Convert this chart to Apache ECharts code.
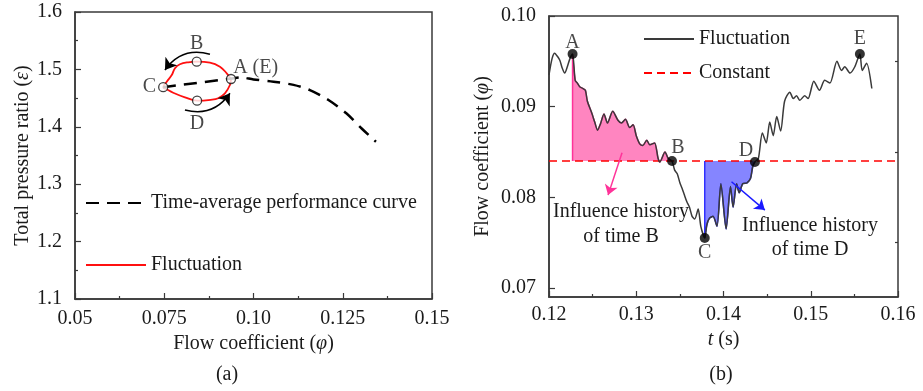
<!DOCTYPE html>
<html><head><meta charset="utf-8">
<script src="https://cdn.jsdelivr.net/npm/echarts@6/dist/echarts.min.js"></script>
<style>html,body{margin:0;padding:0;background:#fff}#c{width:923px;height:391px}</style>
</head><body><div id="c"></div>
<script>
// ---------- panel (a) ----------
const avgPhi = [0.0747, 0.0937, 0.0965, 0.1000, 0.1056, 0.1112, 0.1158, 0.1210, 0.1260, 0.1303, 0.1343];
const avgEps = [1.469, 1.484, 1.486, 1.4825, 1.4786, 1.473, 1.464, 1.4467, 1.4235, 1.397, 1.374];
const loopPhi = [0.0937, 0.0925, 0.0906, 0.0878, 0.0841, 0.0817, 0.0794, 0.0780, 0.0771, 0.0757, 0.0747, 0.0757, 0.0775, 0.0808, 0.0842, 0.0880, 0.0901, 0.0920, 0.0934, 0.0937];
const loopEps = [1.4833, 1.4932, 1.5047, 1.5117, 1.5134, 1.5124, 1.5089, 1.502, 1.4902, 1.4786, 1.469, 1.4653, 1.4594, 1.4514, 1.4455, 1.4470, 1.4497, 1.4584, 1.4728, 1.4833];
const loopMarkerLabels = ['A (E)', 'B', 'C', 'D'];
const loopMarkerPhi = [0.0937, 0.0841, 0.0747, 0.0842];
const loopMarkerEps = [1.4833, 1.5134, 1.469, 1.4455];
const arrowTopFrom = [0.0878, 1.5263], arrowTopTo = [0.0752, 1.499];
const arrowBotFrom = [0.0808, 1.4293], arrowBotTo = [0.0934, 1.4584];
const xTicksA = ['0.05', '0.075', '0.10', '0.125', '0.15'];
const yTicksA = ['1.1', '1.2', '1.3', '1.4', '1.5', '1.6'];

// ---------- panel (b) ----------
const tVals = [0.1200, 0.12035, 0.12065, 0.1210, 0.12125, 0.1215, 0.1218, 0.1221, 0.1224, 0.1227,
  0.1230, 0.12325, 0.12352, 0.1239, 0.12417, 0.1244, 0.12486, 0.12524, 0.12556, 0.1259, 0.1263, 0.1267, 0.1273, 0.1279, 0.1283, 0.12876, 0.12925, 0.12964, 0.1300, 0.1304, 0.13075, 0.1312, 0.13155, 0.1321, 0.1325, 0.1327, 0.1333, 0.13365, 0.1341,
  0.1344, 0.1347, 0.1350, 0.13525, 0.1355, 0.1358, 0.1361, 0.1364, 0.1367, 0.1371, 0.1374, 0.13785,
  0.1381, 0.1384, 0.1388, 0.13925, 0.1397, 0.1403, 0.1408, 0.1411, 0.1415, 0.1418, 0.1422, 0.1427, 0.1431, 0.14335, 0.1436,
  0.1440, 0.14445, 0.1449, 0.1453, 0.1457, 0.1461, 0.14655, 0.1470, 0.1476, 0.1480, 0.14837, 0.14875, 0.1493, 0.1497, 0.15035, 0.1510, 0.1516, 0.1522, 0.1530, 0.15353, 0.1539, 0.1545, 0.15505, 0.15563, 0.1559, 0.1564, 0.1570];
const phiVals = [0.0935, 0.0953, 0.0959, 0.0955, 0.0951, 0.0943, 0.0937, 0.0944, 0.0953, 0.0958,
  0.0929, 0.0926, 0.0922, 0.0920, 0.0918, 0.0906, 0.0894, 0.0883, 0.0874, 0.0881, 0.0892, 0.0882, 0.0895, 0.0885, 0.0882, 0.0886, 0.0877, 0.0880, 0.0868, 0.0859, 0.0857, 0.0863, 0.0858, 0.0860, 0.0843, 0.0839, 0.0850, 0.0843, 0.0840,
  0.0830, 0.0826, 0.0816, 0.0810, 0.0803, 0.0795, 0.0789, 0.0779, 0.0776, 0.0787, 0.0768, 0.0755,
  0.0770, 0.0777, 0.0779, 0.0768, 0.0815, 0.0765, 0.0812, 0.0789, 0.0815, 0.0805, 0.0815, 0.0816, 0.0821, 0.0834, 0.0839,
  0.0843, 0.0871, 0.0860, 0.0883, 0.0868, 0.0889, 0.0873, 0.0906, 0.0916, 0.0909, 0.0912, 0.0907, 0.0912, 0.0909, 0.0928, 0.0918, 0.0929, 0.0926, 0.0950, 0.0940, 0.0944, 0.0937, 0.0944, 0.0958, 0.0940, 0.0948, 0.0920];
const constantPhi = 0.084;
const markerLabelsB = ['A', 'B', 'C', 'D', 'E'];
const markerT = [0.1227, 0.1341, 0.13785, 0.1436, 0.15563];
const markerPhiB = [0.0958, 0.0840, 0.0755, 0.0839, 0.0958];
const arrowPinkFrom = [0.12837, 0.08491], arrowPinkTo = [0.12677, 0.08024];
const arrowBlueFrom = [0.14092, 0.08171], arrowBlueTo = [0.14474, 0.07859];
const xTicksB = ['0.12', '0.13', '0.14', '0.15', '0.16'];
const yTicksB = ['0.07', '0.08', '0.09', '0.10'];
const yTickValuesB = [0.07, 0.08, 0.09, 0.10];
const yMinorValuesB = [0.075, 0.085, 0.095];

// ---------- build ----------
const FONT = '"Liberation Serif", "Times New Roman", serif';
const TXT = '#1a1a1a';
const AX = '#3a3a3a';
const zip = (a, b) => a.map((v, i) => [v, b[i]]);
const curve = zip(tVals, phiVals);
const tA = markerT[0], tB = markerT[1], tC = markerT[2], tD = markerT[3];
const pinkData = [[tA, constantPhi]].concat(curve.filter(p => p[0] >= tA - 1e-9 && p[0] <= tB + 1e-9));
const blueData = [[tC, constantPhi]].concat(curve.filter(p => p[0] >= tC - 1e-9 && p[0] <= tD + 1e-9));
const SM = 0.25;

function axisBase() {
  return {
    axisLine: { show: true, lineStyle: { color: AX, width: 1.5 } },
    axisTick: { show: true, inside: true, length: 6, lineStyle: { color: AX, width: 1.2 } },
    minorTick: { show: true, splitNumber: 2, length: 3, lineStyle: { color: AX, width: 1.2 } },
    splitLine: { show: false },
    axisLabel: { fontSize: 20, fontFamily: FONT, color: TXT },
    nameTextStyle: { fontSize: 20, fontFamily: FONT, color: TXT }
  };
}
const richName = {
  n: { fontSize: 20, fontFamily: FONT, color: TXT },
  i: { fontSize: 20, fontFamily: FONT, color: TXT, fontStyle: 'italic' }
};

const labelStyle = { fontSize: 20, fontFamily: FONT, color: TXT };
const loopLabelPos = [
  { position: 'right', distance: -3, offset: [0, -11] },
  { position: 'top', distance: 3 },
  { position: 'left', distance: 2 },
  { position: 'bottom', distance: 8 }
];
const bLabelPos = [
  { position: 'top', distance: -4 },
  { position: 'top', distance: -2, offset: [6, 0] },
  { position: 'bottom', distance: 0 },
  { position: 'top', distance: -4, offset: [-9, 0] },
  { position: 'top', distance: 0 }
];
const legendText = { fontSize: 20, fontFamily: FONT, color: TXT };
const hideSym = { opacity: 0, borderWidth: 0 };

const option = {
  animation: false,
  textStyle: { fontFamily: FONT },
  grid: [
    { left: 75, top: 12, width: 357, height: 287, show: true, borderColor: AX, borderWidth: 1.5, backgroundColor: 'transparent' },
    { left: 549, top: 16, width: 349, height: 281, show: true, borderColor: AX, borderWidth: 1.5, backgroundColor: 'transparent' }
  ],
  xAxis: [
    Object.assign(axisBase(), {
      gridIndex: 0, type: 'value', min: 0.05, max: 0.15, interval: 0.025,
      name: '{n|Flow coefficient (}{i|φ}{n|)}', nameLocation: 'middle', nameGap: 33,
      nameTextStyle: { rich: richName }
    }),
    Object.assign(axisBase(), {
      gridIndex: 1, type: 'value', min: 0.12, max: 0.16, interval: 0.01,
      name: '{i|t}{n| (s)}', nameLocation: 'middle', nameGap: 31,
      nameTextStyle: { rich: richName }
    })
  ],
  yAxis: [
    Object.assign(axisBase(), {
      gridIndex: 0, type: 'value', min: 1.1, max: 1.6, interval: 0.1,
      name: '{n|Total pressure ratio (}{i|ε}{n|)}', nameLocation: 'middle', nameGap: 41,
      nameTextStyle: { rich: richName }
    }),
    Object.assign(axisBase(), {
      gridIndex: 1, type: 'value', min: 0.069, max: 0.10,
      name: '{n|Flow coefficient (}{i|φ}{n|)}', nameLocation: 'middle', nameGap: 56,
      nameTextStyle: { rich: richName },
      minorTick: { show: false }
    }),
    {
      gridIndex: 1, type: 'value', min: 0.069, max: 0.10,
      axisLine: { show: false }, splitLine: { show: false },
      axisLabel: { show: false },
      axisTick: { show: true, inside: true, length: 3, customValues: yMinorValuesB, lineStyle: { color: AX, width: 1.2 } }
    }
  ],
  legend: [
    { left: 85, top: 193, padding: 0, itemWidth: 60, itemHeight: 14, data: ['Time-average performance curve'],
      itemStyle: hideSym, textStyle: legendText, selectedMode: false },
    { left: 85, top: 255, padding: 0, itemWidth: 60, itemHeight: 14, data: ['Fluctuation (a)'],
      formatter: n => n.replace(/ \([ab]\)$/, ''),
      itemStyle: hideSym, textStyle: legendText, selectedMode: false },
    { left: 643, top: 29, padding: 0, orient: 'vertical', itemGap: 14, itemWidth: 50, itemHeight: 14,
      data: ['Fluctuation (b)', 'Constant'],
      formatter: n => n.replace(/ \([ab]\)$/, ''),
      itemStyle: hideSym, textStyle: legendText, selectedMode: false }
  ],
  graphic: [
    { type: 'text', x: 227, y: 375, style: { text: '(a)', font: '20px ' + FONT, fill: TXT, align: 'center', verticalAlign: 'middle', textAlign: 'center', textVerticalAlign: 'middle' } },
    { type: 'text', x: 721, y: 375, style: { text: '(b)', font: '20px ' + FONT, fill: TXT, align: 'center', verticalAlign: 'middle', textAlign: 'center', textVerticalAlign: 'middle' } },
    { type: 'text', x: 621, y: 224, style: { text: 'Influence history\nof time B', font: '20px ' + FONT, lineHeight: 25, fill: TXT, align: 'center', verticalAlign: 'middle', textAlign: 'center', textVerticalAlign: 'middle' } },
    { type: 'text', x: 810, y: 238, style: { text: 'Influence history\nof time D', font: '20px ' + FONT, lineHeight: 24, fill: TXT, align: 'center', verticalAlign: 'middle', textAlign: 'center', textVerticalAlign: 'middle' } }
  ],
  series: [
    // panel (a)
    { name: 'Fluctuation (a)', type: 'line', xAxisIndex: 0, yAxisIndex: 0, data: zip(loopPhi, loopEps),
      smooth: 0.4, symbol: 'none', lineStyle: { color: '#ff1010', width: 1.8 }, itemStyle: { color: '#ff1010' }, z: 3 },
    { name: 'Time-average performance curve', type: 'line', xAxisIndex: 0, yAxisIndex: 0, data: zip(avgPhi, avgEps),
      smooth: 0.3, symbol: 'none', lineStyle: { color: '#000', width: 2.5, type: [13, 8] }, itemStyle: { color: '#000' }, z: 4 },
    { type: 'lines', coordinateSystem: 'cartesian2d', xAxisIndex: 0, yAxisIndex: 0, symbol: ['none', 'arrow'], symbolSize: 11,
      lineStyle: { color: '#000', width: 1.5, curveness: -0.35, opacity: 1 },
      data: [{ coords: [arrowTopFrom, arrowTopTo] }, { coords: [arrowBotFrom, arrowBotTo] }], z: 5 },
    { type: 'scatter', xAxisIndex: 0, yAxisIndex: 0, symbolSize: 9,
      itemStyle: { color: '#fff', borderColor: '#111', borderWidth: 1.3 }, z: 6,
      data: loopMarkerLabels.map((l, i) => ({ value: [loopMarkerPhi[i], loopMarkerEps[i]],
        label: Object.assign({ show: true, formatter: l }, labelStyle, loopLabelPos[i]) })) },
    // panel (b)
    { type: 'line', xAxisIndex: 1, yAxisIndex: 1, data: pinkData, smooth: SM, symbol: 'none',
      lineStyle: { color: '#ff3399', width: 1.5 }, areaStyle: { color: '#ff85c0', opacity: 1, origin: constantPhi }, z: 1 },
    { type: 'line', xAxisIndex: 1, yAxisIndex: 1, data: blueData, smooth: SM, symbol: 'none',
      lineStyle: { color: '#3030ff', width: 1.5 }, areaStyle: { color: '#8585ff', opacity: 1, origin: constantPhi }, z: 1 },
    { name: 'Constant', type: 'line', xAxisIndex: 1, yAxisIndex: 1, data: [[0.12, constantPhi], [0.16, constantPhi]],
      symbol: 'none', lineStyle: { color: '#ff0000', width: 1.5, type: [8, 5] }, itemStyle: { color: '#ff0000' }, z: 2 },
    { name: 'Fluctuation (b)', type: 'line', xAxisIndex: 1, yAxisIndex: 1, data: curve, smooth: SM, symbol: 'none',
      lineStyle: { color: '#3a3a3a', width: 1.5 }, itemStyle: { color: '#3a3a3a' }, z: 3 },
    { type: 'lines', coordinateSystem: 'cartesian2d', xAxisIndex: 1, yAxisIndex: 1, symbol: ['none', 'arrow'], symbolSize: 10,
      lineStyle: { width: 1.5, curveness: 0, opacity: 1 },
      data: [{ coords: [arrowPinkFrom, arrowPinkTo], lineStyle: { color: '#ff3399', opacity: 1 } },
             { coords: [arrowBlueFrom, arrowBlueTo], lineStyle: { color: '#1a1aff', opacity: 1 } }], z: 5 },
    { type: 'scatter', xAxisIndex: 1, yAxisIndex: 1, symbolSize: 10, itemStyle: { color: '#000' }, z: 6,
      data: markerLabelsB.map((l, i) => ({ value: [markerT[i], markerPhiB[i]],
        label: Object.assign({ show: true, formatter: l }, labelStyle, bLabelPos[i]) })) }
  ]
};
// tick labels from arrays
option.xAxis[0].axisLabel.formatter = (v, i) => xTicksA[i];
option.xAxis[0].axisLabel.margin = 10;
option.yAxis[0].axisLabel.formatter = (v, i) => yTicksA[i];
option.yAxis[0].axisLabel.margin = 13;
option.xAxis[1].axisLabel.formatter = (v, i) => xTicksB[i];
option.xAxis[1].axisLabel.margin = 8;
option.yAxis[1].axisLabel.customValues = yTickValuesB;
option.yAxis[1].axisTick.customValues = yTickValuesB;
option.yAxis[1].axisLabel.formatter = (v, i) => yTicksB[yTickValuesB.findIndex(x => Math.abs(x - v) < 1e-9)];
option.yAxis[1].axisLabel.margin = 13;

const chart = echarts.init(document.getElementById('c'), null, { renderer: 'canvas' });
chart.setOption(option);
</script>
</body></html>
